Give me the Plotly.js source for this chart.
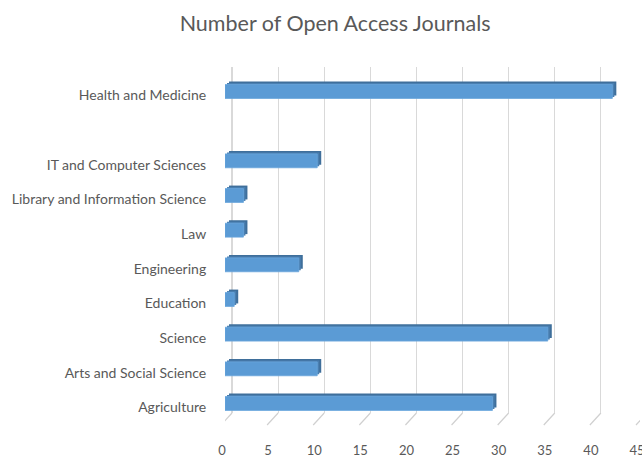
<!DOCTYPE html>
<html>
<head>
<meta charset="utf-8">
<script src="https://cdn.plot.ly/plotly-3.0.1.min.js"></script>
<style>html,body{margin:0;padding:0;background:#fff;}#chart{width:642px;height:457px;}</style>
</head>
<body>
<div id="chart"></div>
<script>
// Data (bottom to top); the blank entry is the empty slot seen in the chart
const categories = ['Agriculture', 'Arts and Social Science', 'Science', 'Education', 'Engineering',
  'Law', 'Library and Information Science', 'IT and Computer Sciences', ' ', 'Health and Medicine'];
const journals = [29, 10, 35, 1, 8, 2, 2, 10, null, 42];
const xTicks = [0, 5, 10, 15, 20, 25, 30, 35, 40, 45];

const W = 642, H = 457, L = 225, R = 2, T = 67, B = 44;
const plotW = W - L - R, plotH = H - T - B;
const xMax = 45;
const yRange = [-0.274, 9.707];
const pxX = plotW / xMax, pxY = plotH / (yRange[1] - yRange[0]);
const barDepthX = 4 / pxX, barDepthY = 3 / pxY;   // 3D depth of bars
const wallDepthX = 7 / pxX;                        // depth of back wall grid

const textColor = '#595959';
const font = 'Lato, "Open Sans", sans-serif';

// empty trace so the back-wall subplot (gridlines) is created
const wall = {
  type: 'scatter', mode: 'markers', x: [null], y: [null], xaxis: 'x', yaxis: 'y',
  hoverinfo: 'skip', showlegend: false
};
const barBase = {type: 'bar', orientation: 'h', y: categories, x: journals, width: 0.4,
                 hoverinfo: 'skip', showlegend: false};
const back = Object.assign({}, barBase, {xaxis: 'x2', yaxis: 'y2',
  marker: {color: '#3f6f9b', line: {width: 0}}});
const mid = Object.assign({}, barBase, {xaxis: 'x3', yaxis: 'y3',
  marker: {color: '#4a7fb1', line: {width: 0}}});
const front = Object.assign({}, barBase, {xaxis: 'x4', yaxis: 'y4',
  marker: {color: '#5b9bd5', line: {width: 0.8, color: '#6aa6dc'}}});

// floor edge: from the back-wall gridline foot down to the front edge
const floorShapes = xTicks.map(v => ({
  type: 'line', xref: 'x2', yref: 'paper', layer: 'below',
  x0: v + wallDepthX - barDepthX, y0: 0, x1: v - barDepthX - 4 / pxX, y1: -12 / plotH,
  line: {color: '#d0d0d0', width: 1.2}
}));

const catAxis = {type: 'category', categoryorder: 'array', categoryarray: categories,
                 showgrid: false, zeroline: false, showline: false};
const hiddenX = {type: 'linear', overlaying: 'x', showgrid: false, zeroline: false,
                 showticklabels: false, showline: false};

const layout = {
  width: W, height: H,
  margin: {l: L, r: R, t: T, b: B},
  paper_bgcolor: '#fff', plot_bgcolor: '#fff',
  title: {text: 'Number of Open Access Journals', font: {family: font, size: 21.5, color: textColor},
          xref: 'container', x: 0.522, xanchor: 'center', yref: 'container', y: 1 - 23 / H, yanchor: 'middle'},
  showlegend: false,
  // back wall: gridlines
  xaxis: {type: 'linear', range: [-wallDepthX, xMax - wallDepthX], tickvals: xTicks,
          showgrid: true, gridcolor: '#d9d9d9', gridwidth: 1.2,
          zeroline: false, showline: false, showticklabels: false, ticks: ''},
  yaxis: {type: 'linear', range: [0, 1], showgrid: false, zeroline: false,
          showticklabels: false, showline: false, ticks: ''},
  // bar depth (dark top/side), full and half depth
  xaxis2: Object.assign({}, hiddenX, {anchor: 'y2', range: [-barDepthX, xMax - barDepthX]}),
  yaxis2: Object.assign({}, catAxis, {overlaying: 'y', anchor: 'x2',
           range: [yRange[0] - barDepthY, yRange[1] - barDepthY], showticklabels: false}),
  xaxis3: Object.assign({}, hiddenX, {anchor: 'y3', range: [-barDepthX / 2, xMax - barDepthX / 2]}),
  yaxis3: Object.assign({}, catAxis, {overlaying: 'y', anchor: 'x3',
           range: [yRange[0] - barDepthY / 2, yRange[1] - barDepthY / 2], showticklabels: false}),
  // front faces with labels
  xaxis4: {type: 'linear', overlaying: 'x', anchor: 'y4', side: 'bottom', range: [0, xMax],
           tickvals: xTicks, showgrid: false, zeroline: false, showline: false,
           ticks: 'outside', ticklen: 25, tickcolor: 'rgba(0,0,0,0)',
           ticklabeloverflow: 'allow', ticklabelshift: -3,
           tickfont: {family: font, size: 13, color: textColor}},
  yaxis4: Object.assign({}, catAxis, {overlaying: 'y', anchor: 'x4', side: 'left', range: yRange,
           ticks: 'outside', ticklen: 15, tickcolor: 'rgba(0,0,0,0)',
           ticklabelshift: 4,
           tickfont: {family: font, size: 14, color: textColor}}),
  shapes: floorShapes,
  bargap: 0.6
};

Plotly.newPlot('chart', [wall, back, mid, front], layout, {displayModeBar: false, staticPlot: true});
</script>
</body>
</html>
